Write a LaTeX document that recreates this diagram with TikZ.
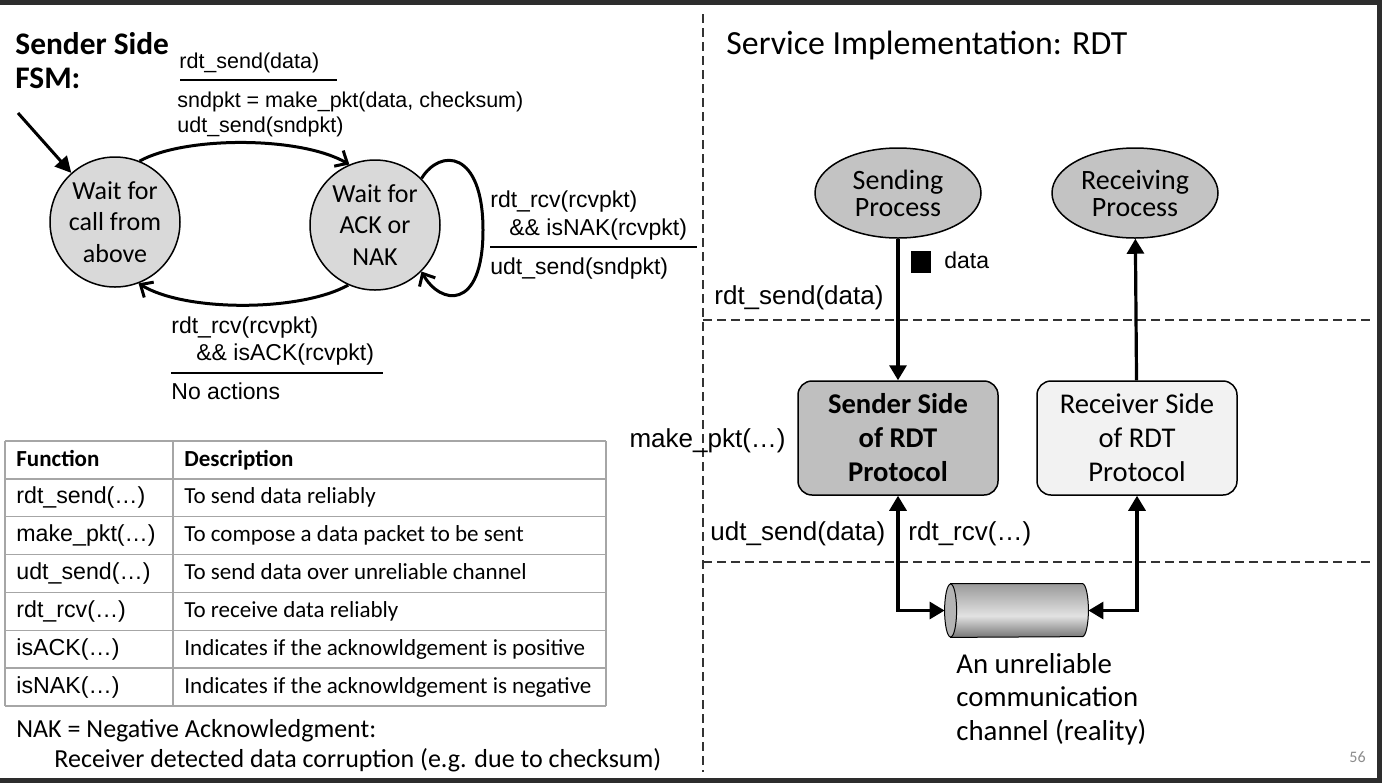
\documentclass[tikz,border=0pt]{standalone}
\usepackage{fontspec}
\setmainfont{Carlito}
\newfontfamily\arialfont{Liberation Sans}
\usetikzlibrary{arrows.meta,calc,positioning,shapes.geometric}

\definecolor{stategray}{HTML}{D9D9D9}
\definecolor{procgray}{HTML}{C3C3C3}
\definecolor{sendgray}{HTML}{BFBFBF}
\definecolor{recvgray}{HTML}{F2F2F2}
\definecolor{gridgray}{HTML}{A6A6A6}
\definecolor{framegray}{HTML}{2D2D2D}
\definecolor{pagegray}{HTML}{8C8C8C}
\definecolor{cyltop}{HTML}{9A9A9A}
\definecolor{cylmid}{HTML}{E2E2E2}
\definecolor{cylbot}{HTML}{767676}
\definecolor{cylend}{HTML}{B4B4B4}
\pgfdeclareverticalshading{chanshade}{100bp}{color(0bp)=(cylbot); color(25bp)=(cylbot); color(45bp)=(cylmid); color(75bp)=(cyltop); color(100bp)=(cyltop)}

\tikzset{
  fsm/.style={font=\arialfont\fontsize{10.75}{13}\selectfont,inner sep=0pt,anchor=base west},
  fsmside/.style={fsm,font=\arialfont\fontsize{11.5}{13}\selectfont},
  wait/.style={circle,draw,line width=0.75pt,fill=stategray,minimum size=65pt,inner sep=0pt,align=center,font=\fontsize{13}{15.75}\selectfont},
  trans/.style={line width=1.5pt,-{Straight Barb[length=5pt,width=9pt]}},
  rule/.style={line width=1pt},
  grid/.style={draw=gridgray,line width=0.75pt},
  cell/.style={inner sep=0pt,anchor=base west,font=\fontsize{11.5}{13}\selectfont},
  fncell/.style={inner sep=0pt,anchor=base west,font=\arialfont\fontsize{11.6}{13}\selectfont},
  note/.style={inner sep=0pt,anchor=base west,font=\fontsize{13}{15}\selectfont},
  divider/.style={draw=black!80,line width=0.6pt,dash pattern=on 4.5pt off 2.5pt},
  proc/.style={ellipse,draw,line width=0.75pt,fill=procgray,minimum width=83pt,minimum height=45pt,inner sep=0pt,align=center,font=\fontsize{14}{13.5}\selectfont},
  rdtbox/.style={rectangle,rounded corners=7pt,draw,line width=0.75pt,minimum width=100pt,minimum height=57pt,inner sep=0pt,align=center,font=\fontsize{14.3}{17}\selectfont},
  lbl/.style={font=\arialfont\fontsize{13}{15}\selectfont,inner sep=0pt,anchor=base west},
  chantext/.style={inner sep=0pt,anchor=base west,font=\fontsize{14.4}{17}\selectfont},
  flow/.style={line width=1.6pt,-{Triangle[length=7.5pt,width=8.5pt]}},
  twoway/.style={line width=1.6pt,{Triangle[length=7.5pt,width=8.5pt]}-{Triangle[length=7.5pt,width=8.5pt]}},
}

\begin{document}
\begin{tikzpicture}[x=0.5pt,y=-0.5pt]
  \useasboundingbox (0,0) rectangle (1382,783);
  \fill[white] (0,0) rectangle (1382,783);

  % sender side FSM
  \node[inner sep=0pt,anchor=base west,font=\bfseries\fontsize{15.7}{18}\selectfont] (title) at (15,54) {Sender Side};
  \node[inner sep=0pt,anchor=base west,font=\bfseries\fontsize{15.7}{18}\selectfont] (titlefsm) at (15,88) {FSM:};

  \node[wait] (wait1) at (115,222) {Wait for\\call from\\above};
  \node[wait] (wait2) at (375,225) {Wait for\\ACK or\\NAK};

  \coordinate (init) at (18,113);
  \draw[line width=1.5pt,-{Triangle[length=8pt,width=8pt]}] (init) -- (wait1);
  \draw[trans] (wait1.68) .. controls (185,136) and (300,136) .. (wait2.113);
  \draw[trans] (wait2.246) .. controls (300,312) and (185,312) .. (wait1.291);
  \draw[trans] (wait2.45) .. controls (440,148) and (483,150) .. (483,230) .. controls (483,312) and (440,305) .. (wait2.-45);

  \node[fsm] (snd) at (179,68) {rdt\_send(data)};
  \draw[rule] (180,80) -- (337,80);
  \node[fsm] (act1) at (177,107) {sndpkt = make\_pkt(data, checksum)};
  \node[fsm] (act2) at (177,132) {udt\_send(sndpkt)};

  \node[fsmside] (nak1) at (490,207) {rdt\_rcv(rcvpkt)};
  \node[fsmside] (nak2) at (509,235) {\&\& isNAK(rcvpkt)};
  \draw[rule] (490,247) -- (697,247);
  \node[fsmside] (resend) at (490,274) {udt\_send(sndpkt)};

  \node[fsmside] (ack1) at (171,333) {rdt\_rcv(rcvpkt)};
  \node[fsmside] (ack2) at (196,360) {\&\& isACK(rcvpkt)};
  \draw[rule] (171,373) -- (383,373);
  \node[fsmside] (noact) at (171,399) {No actions};

  % function table
  \foreach \k in {0,...,7}
    \draw[grid] (5,{441+37.86*\k}) -- (606,{441+37.86*\k});
  \foreach \xx in {5,173,606}
    \draw[grid] (\xx,441) -- (\xx,706);
  \node[cell,font=\bfseries\fontsize{11.5}{13}\selectfont] (hfn) at (16,466) {Function};
  \node[cell,font=\bfseries\fontsize{11.5}{13}\selectfont] (hdesc) at (184,466) {Description};
  \foreach \fn/\desc [count=\i] in {rdt\_send(…)/To send data reliably,
      make\_pkt(…)/To compose a data packet to be sent,
      udt\_send(…)/To send data over unreliable channel,
      rdt\_rcv(…)/To receive data reliably,
      isACK(…)/Indicates if the acknowldgement is positive,
      isNAK(…)/Indicates if the acknowldgement is negative}{
    \node[fncell] (fn\i) at (16,{466+37.86*\i}) {\fn};
    \node[cell] (desc\i) at (184,{466+37.86*\i}) {\desc};
  }

  \node[note] (nakdef) at (16,737) {NAK = Negative Acknowledgment:};
  \node[note] (nakwhy) at (54,767) {Receiver detected data corruption (e.g. due to checksum)};

  % service implementation
  \draw[divider] (703,14) -- (703,772);
  \draw[divider] (703,320) -- (1370,320);
  \draw[divider] (703,562) -- (1370,562);

  \node[inner sep=0pt,anchor=base west,font=\fontsize{16.9}{19}\selectfont] (svc) at (726,54) {Service Implementation: RDT};

  \node[proc] (sendp) at (898,193) {Sending\\Process};
  \node[proc] (recvp) at (1135,193) {Receiving\\Process};
  \node[rdtbox,fill=sendgray,font=\bfseries\fontsize{14.3}{17}\selectfont] (sender) at (898,438) {Sender Side\\of RDT\\Protocol};
  \node[rdtbox,fill=recvgray] (receiver) at (1137,438) {Receiver Side\\of RDT\\Protocol};

  \node[fill=black,minimum width=10pt,minimum height=11pt,inner sep=0pt] (pkt) at (921,262) {};
  \node[inner sep=0pt,anchor=base west,font=\arialfont\fontsize{11.5}{13}\selectfont] (pktlbl) at (944,268) {data};

  \node[lbl] (rdtsend) at (714,304) {rdt\_send(data)};
  \node[lbl,anchor=base east] (mkpkt) at (786,447) {make\_pkt(…)};
  \node[lbl] (udtsend) at (710,540) {udt\_send(data)};
  \node[lbl] (rdtrcv) at (908,540) {rdt\_rcv(…)};

  % channel
  \node[minimum width=71.5pt,minimum height=26.5pt,inner sep=0pt] (chan) at (1016.5,610.5) {};
  \shade[shading=chanshade,draw=black,line width=0.5pt]
    ($(chan.north west)+(6,0)$) -- ($(chan.north east)+(-6,0)$)
    arc[start angle=90,end angle=-90,x radius=3pt,y radius=13.25pt]
    -- ($(chan.south west)+(6,0)$) -- cycle;
  \draw[fill=cylend,line width=0.5pt] ($(chan.west)+(6,0)$) ellipse[x radius=3pt,y radius=13.25pt];

  \node[chantext] (chanlbl) at (956,673) {An unreliable};
  \node[chantext] (chanlbl2) at (956,706) {communication};
  \node[chantext] (chanlbl3) at (956,740) {channel (reality)};

  \draw[flow] (sendp) -- (sender);
  \draw[flow] (receiver) -- (recvp);
  \draw[twoway] (sender.south) |- (chan.west);
  \draw[twoway] (receiver.south) |- (chan.east);

  \node[inner sep=0pt,anchor=base west,text=pagegray,font=\fontsize{8}{9}\selectfont] (pageno) at (1349,762) {56};

  % frame
  \fill[framegray] (0,0) rectangle (1382,4.5);
  \fill[framegray] (0,778) rectangle (1382,783);
  \fill[framegray] (1377,0) rectangle (1382,783);
\end{tikzpicture}
\end{document}
